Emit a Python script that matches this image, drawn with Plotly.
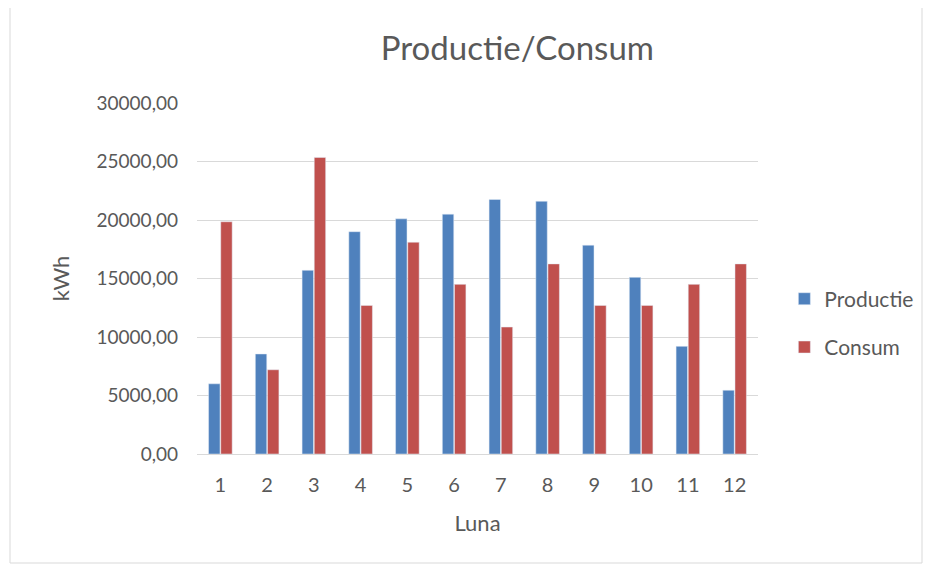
import plotly.graph_objects as go

months = ["1", "2", "3", "4", "5", "6", "7", "8", "9", "10", "11", "12"]
productie = [6000, 8550, 15700, 19000, 20100, 20500, 21750, 21600, 17850, 15100, 9200, 5450]
consum = [19850, 7200, 25350, 12700, 18100, 14500, 10850, 16250, 12700, 12700, 14500, 16250]

FONT = "Lato, 'Open Sans', sans-serif"
GREY = "#595959"

# the page body has an 8px margin on every side: keep the figure inside the window
W, H = 917, 556
L, R, T, B = 189, 167, 95, 110

fig = go.Figure()
fig.add_trace(go.Bar(x=months, y=productie, name="Productie", marker_color="#4f81bd", legendgroup="a"))
fig.add_trace(go.Bar(x=months, y=consum, name="Consum", marker_color="#c0504d", legendgroup="b"))

fig.update_layout(
    width=W, height=H,
    margin=dict(l=L, r=R, t=T, b=B, autoexpand=False),
    paper_bgcolor="white", plot_bgcolor="white",
    separators=",.",
    barmode="group", bargap=0.48, bargroupgap=0.06,
    font=dict(family=FONT, color=GREY, size=19),
    title=dict(text="Productie/Consum", x=0.571, xref="paper", xanchor="center",
               y=1 - 40 / H, yanchor="middle", font=dict(size=33, color=GREY, family=FONT)),
    legend=dict(x=1.047, y=0.373, xanchor="left", yanchor="middle", tracegroupgap=18,
                traceorder="grouped", font=dict(size=21, color=GREY, family=FONT),
                itemwidth=30, bgcolor="rgba(0,0,0,0)"),
    showlegend=True,
)
fig.update_xaxes(
    type="category", showgrid=False, showline=True, linecolor="#d9d9d9", linewidth=1,
    ticks="", tickfont=dict(size=20, color=GREY), ticklabelstandoff=13,
    title=dict(text="Luna", font=dict(size=22, color=GREY), standoff=20),
)
fig.update_yaxes(
    range=[0, 30000], dtick=5000, tickformat=".2f", showgrid=True, gridcolor="#d9d9d9",
    gridwidth=1, zeroline=False, showline=False, ticks="",
    tickfont=dict(size=19, color=GREY), ticklabelstandoff=18,
    title=dict(text="kWh", font=dict(size=22, color=GREY), standoff=20),
)
fig.add_shape(type="rect", xref="paper", yref="paper",
              x0=(10 - 197) / 561, x1=(922 - 197) / 561,
              y0=(454 - 563) / 351, y1=(454 - 6) / 351,
              line=dict(color="#d9d9d9", width=1), layer="below")

fig.write_html("out.html")
